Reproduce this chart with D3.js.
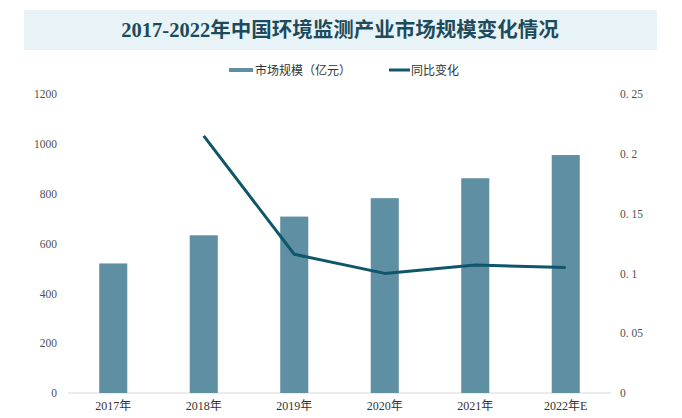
<!DOCTYPE html>
<html><head><meta charset="utf-8">
<script src="https://cdn.jsdelivr.net/npm/d3@7"></script>
<style>body{margin:0;background:#fff;}svg{display:block;}</style>
</head><body>
<script>
const categories = ["2017年","2018年","2019年","2020年","2021年","2022年E"];
const marketSize = [520, 633, 708, 782, 862, 955];
const yoyChange = [null, 0.215, 0.116, 0.100, 0.107, 0.105];
const leftTicks = [0,200,400,600,800,1000,1200];
const rightTicks = [0,0.05,0.1,0.15,0.2,0.25];
const rightTickLabels = ["0","0. 05","0. 1","0. 15","0. 2","0. 25"];
const titleText = "2017-2022年中国环境监测产业市场规模变化情况";
const legendLabels = ["市场规模（亿元）","同比变化"];

const W = 682, H = 418;
const svg = d3.select("body").append("svg").attr("width", W).attr("height", H);
const barColor = "#5f8fa3", lineColor = "#10566a";
const font = "'Liberation Serif','Noto Sans CJK SC',serif";

// title band
svg.append("rect").attr("x",24).attr("y",10).attr("width",633).attr("height",40).attr("fill","#e8f3f8");
svg.append("text").attr("x",340).attr("y",37).attr("text-anchor","middle")
  .attr("font-family","'Liberation Serif','Noto Sans CJK SC',serif").attr("font-weight","bold")
  .attr("font-size",20.5).attr("fill","#1d4b5b").text(titleText);

const x = d3.scaleBand().domain(categories).range([68,611]).paddingInner(0.69).paddingOuter(0.345);
const yL = d3.scaleLinear().domain([0,1200]).range([393,94]);
const yR = d3.scaleLinear().domain([0,0.25]).range([393,94]);

// baseline
svg.append("line").attr("x1",68).attr("x2",611).attr("y1",yL(0)).attr("y2",yL(0)).attr("stroke","#d9d9d9").attr("stroke-width",1);

// bars
svg.append("g").selectAll("rect").data(marketSize).join("rect")
  .attr("x",(d,i)=>x(categories[i])).attr("width",x.bandwidth())
  .attr("y",d=>yL(d)).attr("height",d=>yL(0)-yL(d)).attr("fill",barColor);

// line
const pts = categories.map((c,i)=>({c, v:yoyChange[i]})).filter(d=>d.v!==null);
svg.append("path").datum(pts)
  .attr("d", d3.line().x(d=>x(d.c)+x.bandwidth()/2).y(d=>yR(d.v)))
  .attr("fill","none").attr("stroke",lineColor).attr("stroke-width",3).attr("stroke-linejoin","round");

// left axis
const axL = d3.axisLeft(yL).tickValues(leftTicks).tickSize(0).tickPadding(0).tickFormat(d3.format("d"));
const gL = svg.append("g").attr("transform","translate(57,0)").call(axL);
gL.select(".domain").remove();
gL.selectAll("text").attr("font-family",font).attr("font-size",11.5).attr("fill","#505050");

// right axis
const axR = d3.axisRight(yR).tickValues(rightTicks).tickSize(0).tickPadding(0).tickFormat((d,i)=>rightTickLabels[i]);
const gR = svg.append("g").attr("transform","translate(620,0)").call(axR);
gR.select(".domain").remove();
gR.selectAll("text").attr("font-family",font).attr("font-size",11.5).attr("fill","#505050");

// bottom axis
const axB = d3.axisBottom(x).tickSize(0).tickPadding(0);
const gB = svg.append("g").attr("transform","translate(0,406)").call(axB);
gB.select(".domain").remove();
gB.selectAll("text").attr("font-family",font).attr("font-size",12).attr("fill","#333").attr("dy","0.35em");

// legend
const lg = svg.append("g").attr("font-family","'Noto Sans CJK SC',sans-serif").attr("font-size",12).attr("fill","#333");
lg.append("rect").attr("x",229).attr("y",68).attr("width",24).attr("height",4).attr("fill",barColor);
lg.append("text").attr("x",255).attr("y",74.5).text(legendLabels[0]);
lg.append("line").attr("x1",389).attr("x2",410).attr("y1",70).attr("y2",70).attr("stroke",lineColor).attr("stroke-width",3);
lg.append("text").attr("x",411).attr("y",74.5).text(legendLabels[1]);
</script>
</body></html>
